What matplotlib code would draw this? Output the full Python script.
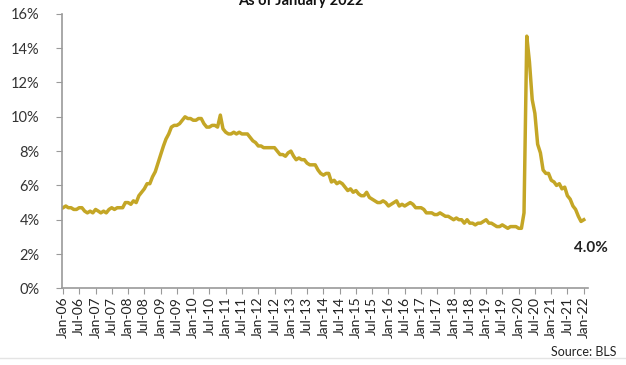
import numpy as np
import pandas as pd
import matplotlib.pyplot as plt
import matplotlib.dates as mdates
from matplotlib.ticker import FuncFormatter

plt.rcParams['font.family'] = ['Lato', 'DejaVu Sans']

# monthly unemployment rate (%), Jan 2006 .. Jan 2022
rate_2006 = [4.7, 4.8, 4.7, 4.7, 4.6, 4.6, 4.7, 4.7, 4.5, 4.4, 4.5, 4.4]
rate_2007 = [4.6, 4.5, 4.4, 4.5, 4.4, 4.6, 4.7, 4.6, 4.7, 4.7, 4.7, 5.0]
rate_2008 = [5.0, 4.9, 5.1, 5.0, 5.4, 5.6, 5.8, 6.1, 6.1, 6.5, 6.8, 7.3]
rate_2009 = [7.8, 8.3, 8.7, 9.0, 9.4, 9.5, 9.5, 9.6, 9.8, 10.0, 9.9, 9.9]
rate_2010 = [9.8, 9.8, 9.9, 9.9, 9.6, 9.4, 9.4, 9.5, 9.5, 9.4, 10.1, 9.3]
rate_2011 = [9.1, 9.0, 9.0, 9.1, 9.0, 9.1, 9.0, 9.0, 9.0, 8.8, 8.6, 8.5]
rate_2012 = [8.3, 8.3, 8.2, 8.2, 8.2, 8.2, 8.2, 8.0, 7.8, 7.8, 7.7, 7.9]
rate_2013 = [8.0, 7.7, 7.5, 7.6, 7.5, 7.5, 7.3, 7.2, 7.2, 7.2, 6.9, 6.7]
rate_2014 = [6.6, 6.7, 6.7, 6.2, 6.3, 6.1, 6.2, 6.1, 5.9, 5.7, 5.8, 5.6]
rate_2015 = [5.7, 5.5, 5.4, 5.4, 5.6, 5.3, 5.2, 5.1, 5.0, 5.0, 5.1, 5.0]
rate_2016 = [4.8, 4.9, 5.0, 5.1, 4.8, 4.9, 4.8, 4.9, 5.0, 4.9, 4.7, 4.7]
rate_2017 = [4.7, 4.6, 4.4, 4.4, 4.4, 4.3, 4.3, 4.4, 4.3, 4.2, 4.2, 4.1]
rate_2018 = [4.0, 4.1, 4.0, 4.0, 3.8, 4.0, 3.8, 3.8, 3.7, 3.8, 3.8, 3.9]
rate_2019 = [4.0, 3.8, 3.8, 3.7, 3.6, 3.6, 3.7, 3.6, 3.5, 3.6, 3.6, 3.6]
rate_2020 = [3.5, 3.5, 4.4, 14.7, 13.2, 11.0, 10.2, 8.4, 7.9, 6.9, 6.7, 6.7]
rate_2021 = [6.3, 6.2, 6.0, 6.1, 5.8, 5.9, 5.4, 5.2, 4.8, 4.6, 4.2, 3.9]
rate_2022 = [4.0]

rates = (rate_2006 + rate_2007 + rate_2008 + rate_2009 + rate_2010 + rate_2011
         + rate_2012 + rate_2013 + rate_2014 + rate_2015 + rate_2016 + rate_2017
         + rate_2018 + rate_2019 + rate_2020 + rate_2021 + rate_2022)
dates = pd.date_range('2006-01-01', periods=len(rates), freq='MS')
tick_dates = pd.date_range('2006-01-01', '2022-01-01', freq='6MS')

fig = plt.figure(figsize=(6.26, 3.65), dpi=100)
ax = fig.add_axes([0.099, 0.21, 0.84, 0.752])

ax.plot(dates, rates, color='#C4A626', lw=2.5, solid_joinstyle='round')

ax.set_ylim(0, 16)
ax.set_yticks(np.arange(0, 17, 2))
ax.yaxis.set_major_formatter(FuncFormatter(lambda v, p: f'{v:.0f}%'))
ax.set_xlim(pd.Timestamp('2005-12-20'), pd.Timestamp('2022-02-15'))
ax.set_xticks(tick_dates)
ax.xaxis.set_major_formatter(mdates.DateFormatter('%b-%y'))
plt.setp(ax.get_xticklabels(), rotation=90)

for side in ['top', 'right']:
    ax.spines[side].set_visible(False)
for side in ['left', 'bottom']:
    ax.spines[side].set_color('#9a9a9a')
    ax.spines[side].set_linewidth(1.2)
ax.tick_params(axis='y', colors='#9a9a9a', labelcolor='#333333', labelsize=10.5,
               length=4, pad=12)
ax.tick_params(axis='x', colors='#9a9a9a', labelcolor='#222222', labelsize=10,
               length=4, pad=2)

# latest reading label
ax.annotate(f'{rates[-1]:.1f}%', xy=(dates[-1], rates[-1]), xytext=(5, -20),
            textcoords='offset points', ha='center', va='center',
            fontsize=11, fontweight='bold', color='#222222')

fig.text(0.48, 0.998, 'As of January 2022', ha='center', va='center',
         fontsize=10.5, fontweight='bold', color='#111111')
fig.text(0.985, 0.035, 'Source: BLS', ha='right', va='center',
         fontsize=9, color='#222222')
fig.add_artist(plt.Line2D([0, 1], [0.02, 0.02], color='#e4e4e4', lw=1))

fig.savefig('out.png', dpi=100)
